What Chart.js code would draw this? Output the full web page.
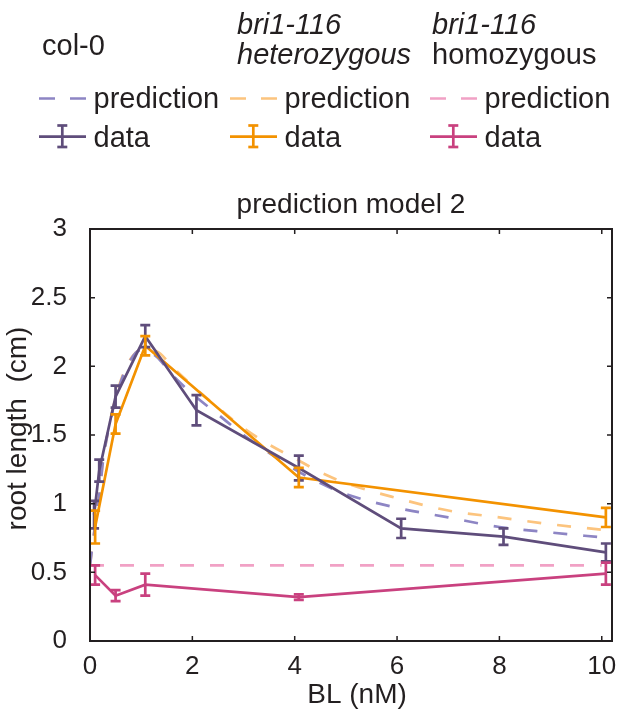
<!DOCTYPE html>
<html>
<head>
<meta charset="utf-8">
<title>root length vs BL</title>
<script src="https://cdn.jsdelivr.net/npm/chart.js@4.4.1/dist/chart.umd.min.js"></script>
<style>
  body { margin: 0; background: #fff; }
  #wrap { position: relative; width: 637px; height: 718px; font-family: "Liberation Sans", Arial, sans-serif; color: #231f20; }
  #rootChart { position: absolute; left: 0; top: 0; }
  .lg { position: absolute; font-size: 29px; line-height: 1; white-space: nowrap; }
  svg.sw { position: absolute; overflow: visible; }
</style>
</head>
<body>
<div id="wrap">
  <canvas id="rootChart" width="637" height="718"></canvas>
  <div id="legend"></div>
</div>
<script>
// measured root length (cm) per BL concentration (nM), with error bars
const col0Conc = [0.08, 0.18, 0.5, 1.08, 2.08, 4.08, 6.08, 8.08, 10.08];
const col0Len  = [0.92, 1.24, 1.78, 2.22, 1.68, 1.26, 0.82, 0.76, 0.645];
const col0Err  = [0.10, 0.08, 0.08, 0.08, 0.11, 0.09, 0.07, 0.06, 0.065];

const hetConc = [0.1, 0.5, 1.08, 4.08, 10.08];
const hetLen  = [0.83, 1.58, 2.15, 1.19, 0.90];
const hetErr  = [0.12, 0.07, 0.07, 0.07, 0.07];

const homConc = [0.1, 0.5, 1.08, 4.08, 10.08];
const homLen  = [0.48, 0.33, 0.41, 0.32, 0.49];
const homErr  = [0.07, 0.04, 0.08, 0.02, 0.08];

// model 2 predictions
const predConc = [0, 0.05, 0.1, 0.15, 0.2, 0.25, 0.35, 0.5, 0.7, 1, 1.3, 1.6, 2, 2.5, 3, 3.5, 4, 4.5, 5, 6, 7, 8, 9, 10];
const col0Pred = [0.55, 0.70, 0.84, 0.98, 1.12, 1.30, 1.52, 1.76, 1.98, 2.12, 2.07, 1.94, 1.80, 1.65, 1.50, 1.37, 1.25, 1.15, 1.07, 0.97, 0.90, 0.83, 0.79, 0.755];
const hetPred  = [0.55, 0.70, 0.84, 0.98, 1.12, 1.30, 1.52, 1.77, 1.99, 2.12, 2.11, 2.00, 1.86, 1.70, 1.55, 1.43, 1.33, 1.23, 1.15, 1.04, 0.95, 0.90, 0.85, 0.81];
const homPredConc = [0, 10];
const homPred     = [0.55, 0.55];

const xTickValues = [0, 2, 4, 6, 8, 10];
const yTickValues = [0, 0.5, 1, 1.5, 2, 2.5, 3];

const headers = [
  ['col-0'],
  ['<i>bri1-116</i>', '<i>heterozygous</i>'],
  ['<i>bri1-116</i>', 'homozygous']
];

const dataColors = ['#5f4d7b', '#f39200', '#c9417f'];
const predColors = ['#8d85c4', '#fcc47e', '#f1a1c5'];
const INK = '#231f20';
const FONT = '"Liberation Sans", Arial, sans-serif';
const LW = 2.7;

const pts = (xs, ys) => xs.map((v, i) => ({ x: v, y: ys[i] }));

const dataSet = (label, xs, ys, errs, color) => ({
  label, data: pts(xs, ys), errors: errs,
  borderColor: color, borderWidth: LW, pointRadius: 0, tension: 0, fill: false
});
const predSet = (label, xs, ys, color) => ({
  label, data: pts(xs, ys),
  borderColor: color, borderWidth: LW, borderDash: [14, 16], pointRadius: 0,
  cubicInterpolationMode: 'monotone', fill: false
});

// first datasets are drawn on top
const datasets = [
  dataSet('col-0 data', col0Conc, col0Len, col0Err, dataColors[0]),
  dataSet('heterozygous data', hetConc, hetLen, hetErr, dataColors[1]),
  dataSet('homozygous data', homConc, homLen, homErr, dataColors[2]),
  predSet('col-0 prediction', predConc, col0Pred, predColors[0]),
  predSet('heterozygous prediction', predConc, hetPred, predColors[1]),
  predSet('homozygous prediction', homPredConc, homPred, predColors[2])
];

const errorBars = {
  id: 'errorBars',
  afterDatasetsDraw(chart) {
    const { ctx, scales: { x, y } } = chart;
    chart.data.datasets.forEach(ds => {
      if (!ds.errors) return;
      ctx.save();
      ctx.strokeStyle = ds.borderColor;
      ctx.lineWidth = LW;
      ds.data.forEach((p, i) => {
        const px = x.getPixelForValue(p.x);
        const top = y.getPixelForValue(p.y + ds.errors[i]);
        const bot = y.getPixelForValue(p.y - ds.errors[i]);
        ctx.beginPath();
        ctx.moveTo(px, top); ctx.lineTo(px, bot);
        ctx.moveTo(px - 5, top); ctx.lineTo(px + 5, top);
        ctx.moveTo(px - 5, bot); ctx.lineTo(px + 5, bot);
        ctx.stroke();
      });
      ctx.restore();
    });
  }
};

// closed box with inward ticks, title and axis titles
const frame = {
  id: 'frame',
  afterDraw(chart) {
    const { ctx, chartArea: a, scales: { x, y } } = chart;
    ctx.save();
    ctx.strokeStyle = INK;
    ctx.lineWidth = 2;
    ctx.strokeRect(a.left, a.top, a.right - a.left, a.bottom - a.top);
    ctx.lineWidth = 1.5;
    ctx.beginPath();
    x.ticks.forEach(t => {
      const px = x.getPixelForValue(t.value);
      ctx.moveTo(px, a.bottom); ctx.lineTo(px, a.bottom - 5);
      ctx.moveTo(px, a.top); ctx.lineTo(px, a.top + 5);
    });
    y.ticks.forEach(t => {
      const py = y.getPixelForValue(t.value);
      ctx.moveTo(a.left, py); ctx.lineTo(a.left + 5, py);
      ctx.moveTo(a.right, py); ctx.lineTo(a.right - 5, py);
    });
    ctx.stroke();

    ctx.fillStyle = INK;
    ctx.font = '28px ' + FONT;
    ctx.textAlign = 'center';
    ctx.textBaseline = 'alphabetic';
    const cx = (a.left + a.right) / 2;
    ctx.fillText('prediction model 2', cx, 213);
    ctx.fillText('BL (nM)', cx + 6, 703);
    ctx.translate(26, (a.top + a.bottom) / 2 - 6.5);
    ctx.rotate(-Math.PI / 2);
    ctx.fillText('root length  (cm)', 0, 0);
    ctx.restore();
  }
};

new Chart(document.getElementById('rootChart'), {
  type: 'line',
  data: { datasets },
  options: {
    responsive: false,
    animation: false,
    devicePixelRatio: 1,
    layout: { padding: { top: 229, right: 25, bottom: 0, left: 0 } },
    plugins: { legend: { display: false }, tooltip: { enabled: false } },
    scales: {
      x: {
        type: 'linear', min: 0, max: 10.2,
        grid: { display: false }, border: { display: false },
        afterBuildTicks: s => { s.ticks = xTickValues.map(v => ({ value: v })); },
        afterFit: s => { s.height = 77; },
        ticks: { color: INK, font: { size: 26, family: FONT }, padding: 2, maxRotation: 0, autoSkip: false,
                 callback: v => String(v) }
      },
      y: {
        type: 'linear', min: 0, max: 3,
        grid: { display: false }, border: { display: false },
        afterBuildTicks: s => { s.ticks = yTickValues.map(v => ({ value: v })); },
        afterFit: s => { s.width = 90; },
        ticks: { color: INK, font: { size: 26, family: FONT }, padding: 15,
                 callback: v => String(v) }
      }
    }
  },
  plugins: [errorBars, frame]
});

// legend: one column per genotype, prediction and data rows
const legend = document.getElementById('legend');
const colSwatch = [38.6, 229.7, 430];
const colText = [93.5, 284.6, 484.6];
const colHead = [42, 237, 432];

function addText(html, left, baseline) {
  const d = document.createElement('div');
  d.className = 'lg';
  d.innerHTML = html;
  d.style.left = left + 'px';
  d.style.top = (baseline - 24.5) + 'px';
  legend.appendChild(d);
}

function addSvg(left, top, w, h, inner) {
  const ns = 'http://www.w3.org/2000/svg';
  const s = document.createElementNS(ns, 'svg');
  s.setAttribute('class', 'sw');
  s.setAttribute('width', w);
  s.setAttribute('height', h);
  s.style.left = left + 'px';
  s.style.top = top + 'px';
  s.innerHTML = inner;
  legend.appendChild(s);
}

headers.forEach((lines, g) => {
  if (lines.length === 1) addText(lines[0], colHead[g], 55);
  else lines.forEach((l, k) => addText(l, colHead[g], 34 + 30 * k));

  addSvg(colSwatch[g], 90, 47, 17,
    `<line x1="0" y1="8.5" x2="47" y2="8.5" stroke="${predColors[g]}" stroke-width="${LW}" stroke-dasharray="16 15"/>`);
  addText('prediction', colText[g], 108);

  addSvg(colSwatch[g], 124, 47, 25,
    `<g stroke="${dataColors[g]}" stroke-width="${LW}">
       <line x1="0" y1="12.7" x2="47" y2="12.7"/>
       <line x1="23.3" y1="1.5" x2="23.3" y2="23"/>
       <line x1="18.3" y1="1.5" x2="28.3" y2="1.5"/>
       <line x1="18.3" y1="23" x2="28.3" y2="23"/>
     </g>`);
  addText('data', colText[g], 147);
});
</script>
</body>
</html>
